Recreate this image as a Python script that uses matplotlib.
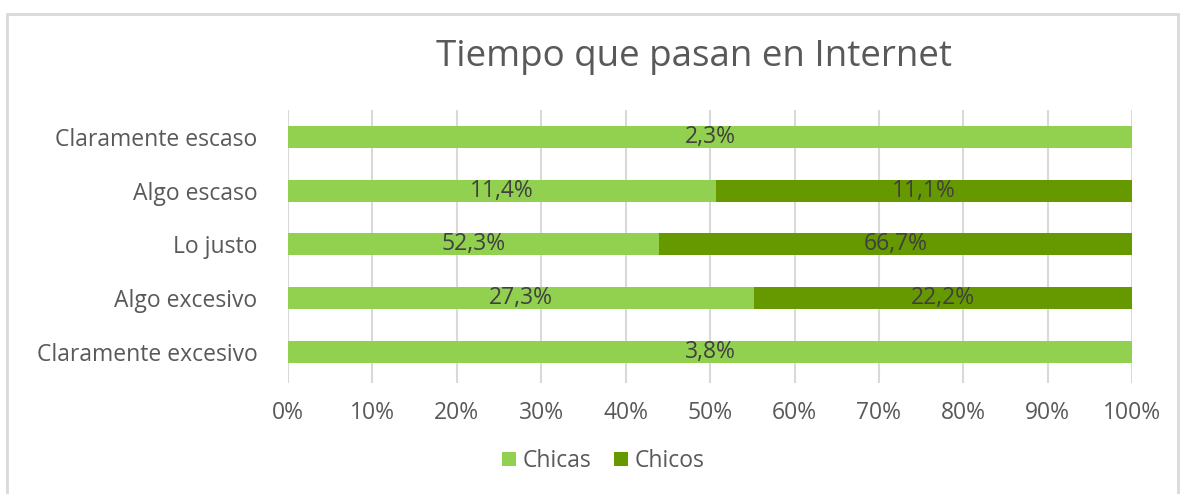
import matplotlib.pyplot as plt
from matplotlib.patches import Rectangle
import numpy as np

categories = ['Claramente escaso', 'Algo escaso', 'Lo justo', 'Algo excesivo', 'Claramente excesivo']
chicas = [2.3, 11.4, 52.3, 27.3, 3.8]
chicos = [0.0, 11.1, 66.7, 22.2, 0.0]
xticks = [0, 10, 20, 30, 40, 50, 60, 70, 80, 90, 100]

light = '#92D050'
dark = '#669900'
txt = '#595959'

plt.rcParams['font.family'] = ['Open Sans', 'DejaVu Sans']

fig = plt.figure(figsize=(11.83, 4.94), dpi=100)
ax = fig.add_axes([0.2435, 0.225, 0.7135, 0.552])

y = np.arange(len(categories))
tot = np.array(chicas) + np.array(chicos)
pa = np.array(chicas) / tot * 100
pb = np.array(chicos) / tot * 100

ax.barh(y, pa, height=0.41, color=light, label='Chicas', zorder=3)
ax.barh(y, pb, left=pa, height=0.41, color=dark, label='Chicos', zorder=3)

def fmt(v):
    return ('%.1f%%' % v).replace('.', ',')

for i in range(len(categories)):
    if chicas[i] > 0:
        ax.text(pa[i] / 2, y[i], fmt(chicas[i]), ha='center', va='center',
                fontsize=16.5, color='#404040', zorder=4)
    if chicos[i] > 0:
        ax.text(pa[i] + pb[i] / 2, y[i], fmt(chicos[i]), ha='center', va='center',
                fontsize=16.5, color='#404040', zorder=4)

ax.set_xlim(0, 100)
ax.set_ylim(4.58, -0.5)
ax.set_xticks(xticks)
ax.set_xticklabels(['%d%%' % t for t in xticks])
ax.set_yticks(y)
ax.set_yticklabels(categories)
ax.tick_params(length=0, labelsize=16.5, colors=txt)
ax.tick_params(axis='x', pad=13)
ax.tick_params(axis='y', pad=22)
ax.grid(axis='x', color='#D9D9D9', linewidth=1.5, zorder=0)
for s in ax.spines.values():
    s.set_visible(False)

fig.text(0.587, 0.885, 'Tiempo que pasan en Internet', ha='center', va='center',
         fontsize=26.5, color=txt)

leg = fig.legend(loc='center', bbox_to_anchor=(0.51, 0.067), ncol=2, frameon=False,
                 fontsize=16.5, handlelength=0.6, handleheight=0.6, handletextpad=0.3,
                 columnspacing=1.0, labelcolor=txt)

fig.patches.append(Rectangle((0.006, -0.01), 0.99, 0.982, transform=fig.transFigure,
                             fill=False, edgecolor='#D9D9D9', linewidth=2))

fig.savefig('out.png', dpi=100)
